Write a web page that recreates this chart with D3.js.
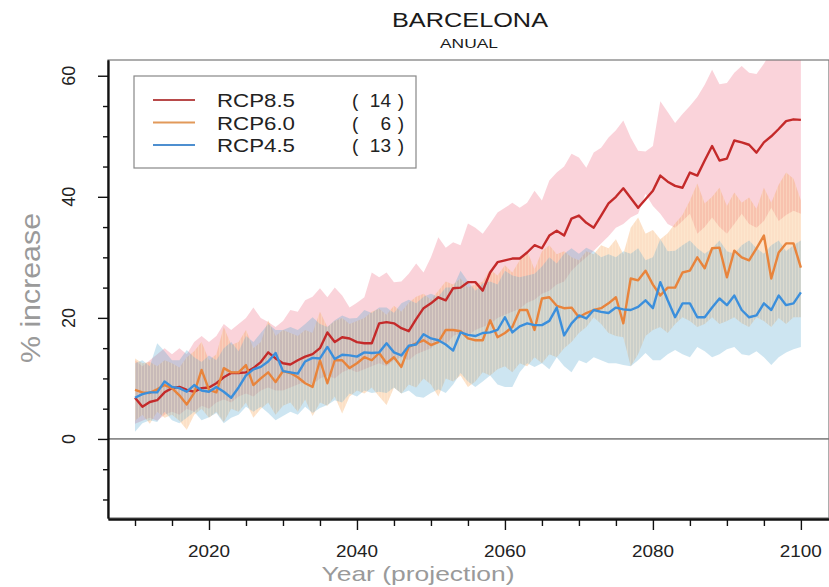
<!DOCTYPE html>
<html>
<head>
<meta charset="utf-8">
<script src="https://cdn.jsdelivr.net/npm/d3@7"></script>
<style>
  body { margin: 0; background: #fff; }
  svg { display: block; font-family: "Liberation Sans", Arial, sans-serif; }
</style>
</head>
<body>
<svg id="chart" width="829" height="587"></svg>
<script>
// Annual precipitation change, Barcelona: ensemble mean and spread per scenario
const years = d3.range(2010, 2101);

const rcp85 = [6.8,5.3,6.1,6.4,7.7,8.4,8.6,8.1,7.8,8.4,8.5,9.2,10.2,10.9,10.9,11.0,11.7,12.7,14.3,13.3,
  12.5,12.3,13.0,13.6,14.0,15.0,17.6,16.0,16.8,16.6,16.0,15.8,15.8,19.1,19.3,19.1,18.3,17.8,19.8,21.6,
  22.4,23.4,22.9,24.9,25.0,25.9,25.9,24.5,27.5,29.2,29.5,29.8,29.8,30.8,32.0,31.5,33.6,34.4,33.6,36.4,
  36.9,35.7,34.9,36.9,38.9,40.0,41.4,39.8,38.2,39.6,41.0,43.5,42.5,41.8,41.5,44.0,43.5,46.0,48.4,46.0,
  46.3,49.3,49.0,48.6,47.3,49.0,50.0,51.2,52.5,52.8,52.7];
const rcp60 = [8.1,7.7,7.6,8.2,8.9,8.4,7.2,5.7,7.6,11.4,8.1,7.7,11.7,11.0,11.0,12.2,8.9,10.0,11.0,9.4,
  11.2,10.9,10.2,9.2,8.6,13.0,9.2,13.0,13.0,11.7,12.5,13.5,13.0,14.2,12.5,13.5,11.9,15.2,15.8,16.3,
  15.5,16.0,18.0,18.0,17.8,16.6,16.3,16.3,19.6,16.8,17.5,18.5,21.3,21.3,18.0,23.2,23.4,22.0,21.6,21.7,
  20.1,20.8,21.3,21.6,22.4,23.4,19.1,26.5,26.2,27.8,25.5,23.7,25.0,25.0,27.5,27.8,30.0,28.2,31.5,31.6,
  26.7,31.1,30.0,29.5,31.5,33.6,26.5,30.8,32.3,32.3,28.3];
const rcp45 = [6.8,7.4,7.7,7.7,9.5,8.6,8.4,7.8,8.9,8.0,7.8,8.6,7.8,6.8,8.5,10.5,11.5,11.9,12.8,14.2,
  11.2,11.0,10.8,12.8,13.4,13.3,15.2,13.2,13.9,13.8,13.6,14.3,14.2,14.3,15.8,14.3,13.8,15.4,15.6,17.3,
  16.6,16.3,15.6,14.6,17.6,17.2,17.0,17.5,17.6,18.0,20.1,17.6,18.6,19.1,18.8,18.8,19.5,21.7,17.1,19.1,
  20.4,19.9,21.3,21.0,20.8,21.7,21.4,21.3,21.8,22.9,21.6,25.9,22.9,20.1,22.4,22.4,20.1,20.1,21.7,23.2,
  22.1,23.7,21.3,20.1,20.4,22.4,21.3,23.7,22.1,22.4,24.2];

// Ensemble spread (lower / upper envelope)
const rcp85Low = [2.5,3,3.5,3,4,4.5,4,5,4.5,5.5,5,6,6.5,6,7,7.5,7,8,8.5,8,
  8,8.5,9,9.5,9,10,10.5,10,11,11.5,11,11.5,12,12.5,12,13,13.5,13,14,14.5,
  15,16,15.5,17,17.5,17,18,18.5,19,20,20.5,21,21.5,22.5,23,24,24.5,25.5,26,27.8,
  29,30,31.1,32.3,33.5,34.9,35.5,36.6,37.2,40.5,38.5,37.2,35.5,34.9,36.0,37.2,33.9,35,36.6,35,
  33.9,35.5,37.2,35.5,34.9,36.0,38.2,36.0,37.0,37.7,37.2];
const rcp85High = [13,12,13,14,15,14,15,14,16,17,16,17,19,18,19,20,21.7,20,19.3,18.5,
  19.5,21.3,21,22.9,23.5,24.9,23.4,25,23.7,21.7,22.5,23.4,27.5,26.7,27.5,25.9,26,27.3,29,27.5,
  30,33.3,31.6,32.5,32,35.6,34.9,33.9,35.6,37.4,38.2,39,38.2,39,41,39.4,42.7,44,45,47.1,
  46.5,44.8,47.3,48.1,49.8,51,52.6,49.8,47.6,47.5,48.4,55.8,54,52.2,53.7,55,56.5,58.5,61,58.6,
  58.8,60.5,61.6,60.5,60.3,62,64,65,65,64,63];
const rcp60Low = [3.0,4.0,2.5,4.5,3.5,4.0,3.0,1.5,4.0,5.0,3.5,4.5,2.8,5.0,4.5,6.0,3.5,5.0,6.0,4.0,
  5.5,6.0,4.5,6.5,3.8,6.0,5.5,7.0,4.2,7.0,8.0,7.5,8.5,7.0,5.6,8.5,7.5,9.0,8.5,10.0,
  9.0,7.0,10.0,9.5,10.5,8.6,9.5,11.0,10.5,11.5,12.0,11.0,12.5,12.0,13.5,12.5,14.0,13.5,15.0,16.0,
  17.5,18.5,20.1,19.0,17.5,17.0,16.8,12.0,14.0,17.0,18.0,18.5,17.5,19.0,20.1,19.5,18.5,19.0,20.1,19.0,
  19.5,20.1,19.1,18.5,20.1,19.5,18.5,20.0,19.0,20.1,20.1];
const rcp60High = [13.3,12.5,12.7,12.0,13.0,12.5,11.8,13.5,14.5,16.0,13.0,14.0,18.5,15.5,16.0,18.0,15.0,16.0,19.6,17.0,
  18.0,17.5,17.0,18.0,17.5,21.0,18.5,19.5,20.0,19.0,19.5,20.0,21.0,21.5,20.5,22.0,21.0,22.5,23.5,24.0,
  23.0,24.5,26.0,25.5,26.5,25.0,25.5,26.0,28.0,27.0,28.7,27.5,29.5,31.1,28.0,31.0,32.0,30.5,31.0,30.0,
  29.5,31.0,30.5,32.0,31.5,33.0,30.5,34.9,36.6,33.9,34.5,33.0,34.0,35.6,37.0,39.4,42.2,38.9,40.0,41.5,
  38.5,40.7,39.0,39.9,38.0,41.5,39.0,42.0,44.0,43.0,39.4];
const rcp45Low = [1.2,2.6,3.1,2.8,4.5,3.1,2.6,3.5,4.5,3.1,3.6,4.3,2.6,3.5,4.0,5.3,4.5,5.3,4.3,3.1,
  3.8,4.5,4.0,5.3,4.3,5.1,5.6,6.4,6.0,7.5,7.0,8.0,7.6,7.8,7.6,8.5,7.5,8.0,7.0,6.8,
  7.6,8.2,7.6,9.0,10.9,9.5,8.6,9.5,10.5,9.0,8.6,8.6,11.0,12.5,11.9,12.5,11.5,13.5,12.0,11.0,
  13.0,12.5,13.5,13.0,12.5,12.5,12.2,12.0,13.0,14.2,13.0,13.0,14.0,14.7,14.0,13.5,15.2,14.5,13.5,14.0,
  14.8,15.2,14.0,13.8,14.5,13.5,12.2,13.5,14.3,14.8,15.2];
const rcp45High = [12.5,13.0,12.0,15.8,14.5,13.0,13.0,14.7,13.5,12.7,13.8,13.0,15.0,16.0,14.5,17.0,16.0,17.5,19.0,18.0,
  18.0,18.5,18.0,19.0,20.1,19.0,18.5,19.6,20.4,19.9,20.0,21.3,20.8,21.7,21.7,20.8,22.4,23.0,22.4,23.5,
  24.0,23.5,25.0,25.0,27.8,26.0,24.5,25.7,26.0,25.5,27.8,27.0,26.7,27.0,27.3,28.5,30.0,29.0,30.6,31.5,
  30.6,31.6,31.0,30.0,30.5,30.0,31.0,30.6,31.5,29.5,30.0,33.0,31.0,31.1,32.0,32.8,31.5,30.6,31.5,32.8,
  31.0,30.6,32.0,32.8,31.5,30.6,32.0,32.8,31.0,32.0,32.8];

const scenarios = ["RCP8.5", "RCP6.0", "RCP4.5"];
const modelCounts = [14, 6, 13];
const yTicksMajor = [0, 20, 40, 60];
const yTicksMinor = [-10, -5, 5, 10, 15, 25, 30, 35, 45, 50, 55];
const xTicksMajor = [2020, 2040, 2060, 2080, 2100];
const xTicksMinor = [2010, 2015, 2025, 2030, 2035, 2045, 2050, 2055, 2065, 2070, 2075, 2085, 2090, 2095];

const svg = d3.select("#chart");
const plot = { left: 108, right: 829, top: 60, bottom: 518 };

const x = d3.scaleLinear().domain([2006.35, 2103.8]).range([plot.left, plot.right]);
const y = d3.scaleLinear().domain([-13.06, 62.6]).range([plot.bottom, plot.top]);

const defs = svg.append("defs");
defs.append("clipPath").attr("id", "plotClip")
  .append("rect").attr("x", plot.left).attr("y", plot.top)
  .attr("width", plot.right - plot.left).attr("height", plot.bottom - plot.top);
const hatch = defs.append("pattern").attr("id", "hatch")
  .attr("patternUnits", "userSpaceOnUse").attr("width", 3).attr("height", 8);
hatch.append("rect").attr("x", 0).attr("y", 0).attr("width", 1).attr("height", 8)
  .attr("fill", "#fff6dc").attr("fill-opacity", 0.3);

const rows = years.map((yr, i) => ({
  year: yr,
  r: rcp85[i], o: rcp60[i], b: rcp45[i],
  rLo: rcp85Low[i], rHi: rcp85High[i],
  oLo: rcp60Low[i], oHi: rcp60High[i],
  bLo: rcp45Low[i], bHi: rcp45High[i]
}));

const g = svg.append("g").attr("clip-path", "url(#plotClip)");

const band = (lo, hi) => d3.area().x(d => x(d.year)).y0(d => y(d[lo])).y1(d => y(d[hi]));

// spread envelopes
g.append("path").datum(rows).attr("d", band("rLo", "rHi"))
  .attr("fill", "#f08096").attr("fill-opacity", 0.35);
g.append("path").datum(rows).attr("d", band("oLo", "oHi"))
  .attr("fill", "#f5a050").attr("fill-opacity", 0.32);
g.append("path").datum(rows).attr("d", band("bLo", "bHi"))
  .attr("fill", "#5aaad2").attr("fill-opacity", 0.3);
g.append("path").datum(rows).attr("d", band("oLo", "oHi"))
  .attr("fill", "url(#hatch)");

// zero reference line
svg.append("line")
  .attr("x1", plot.left).attr("x2", plot.right)
  .attr("y1", y(0)).attr("y2", y(0))
  .attr("stroke", "#333").attr("stroke-width", 1);

// ensemble means
const colors = { r: "#c42a2a", o: "#e8843c", b: "#3b8fdc" };
["r", "o", "b"].forEach(k => {
  g.append("path").datum(rows)
    .attr("d", d3.line().x(d => x(d.year)).y(d => y(d[k])))
    .attr("fill", "none").attr("stroke", colors[k])
    .attr("stroke-width", 2.4).attr("stroke-linejoin", "round");
});

// frame
svg.append("rect")
  .attr("x", plot.left).attr("y", plot.top)
  .attr("width", plot.right - plot.left).attr("height", plot.bottom - plot.top)
  .attr("fill", "none").attr("stroke", "#777").attr("stroke-width", 1.2);

// y axis
const yAxisMinor = svg.append("g").attr("transform", `translate(${plot.left},0)`)
  .call(d3.axisLeft(y).tickValues(yTicksMinor).tickSize(5).tickSizeOuter(0).tickFormat(""));
const yAxisMajor = svg.append("g").attr("transform", `translate(${plot.left},0)`)
  .call(d3.axisLeft(y).tickValues(yTicksMajor).tickSize(10).tickSizeOuter(0).tickFormat(""));
[yAxisMinor, yAxisMajor].forEach(a => {
  a.select(".domain").attr("stroke", "#111").attr("stroke-width", 1.8);
  a.selectAll(".tick line").attr("stroke", "#111").attr("stroke-width", 1.4);
});
svg.append("g").selectAll("text").data(yTicksMajor).join("text")
  .attr("transform", d => `translate(75,${y(d)}) rotate(-90)`)
  .attr("text-anchor", "middle")
  .attr("font-size", 18).attr("fill", "#222")
  .text(d => d);

// x axis
const xAxisMinor = svg.append("g").attr("transform", `translate(0,${plot.bottom + 1})`)
  .call(d3.axisBottom(x).tickValues(xTicksMinor).tickSize(7).tickSizeOuter(0).tickFormat(""));
const xAxisMajor = svg.append("g").attr("transform", `translate(0,${plot.bottom + 1})`)
  .call(d3.axisBottom(x).tickValues(xTicksMajor).tickSize(11).tickSizeOuter(0).tickFormat(""));
[xAxisMinor, xAxisMajor].forEach(a => {
  a.select(".domain").attr("stroke", "#111").attr("stroke-width", 1.8);
  a.selectAll(".tick line").attr("stroke", "#111").attr("stroke-width", 1.4);
});
svg.append("g").selectAll("text").data(xTicksMajor).join("text")
  .attr("x", d => x(d)).attr("y", 557)
  .attr("text-anchor", "middle")
  .attr("font-size", 16).attr("fill", "#222")
  .attr("textLength", 42).attr("lengthAdjust", "spacingAndGlyphs")
  .text(d => d);

// titles
svg.append("text").attr("x", 470).attr("y", 27).attr("text-anchor", "middle")
  .attr("font-size", 20).attr("fill", "#1a1a1a")
  .attr("textLength", 156).attr("lengthAdjust", "spacingAndGlyphs")
  .text("BARCELONA");
svg.append("text").attr("x", 469).attr("y", 48).attr("text-anchor", "middle")
  .attr("font-size", 12.5).attr("fill", "#1a1a1a")
  .attr("textLength", 58).attr("lengthAdjust", "spacingAndGlyphs")
  .text("ANUAL");

svg.append("text")
  .attr("transform", "translate(40,288) rotate(-90)")
  .attr("text-anchor", "middle")
  .attr("font-size", 28).attr("fill", "#9a9a9a")
  .attr("textLength", 150).attr("lengthAdjust", "spacingAndGlyphs")
  .text("% increase");
svg.append("text").attr("x", 418).attr("y", 581).attr("text-anchor", "middle")
  .attr("font-size", 21).attr("fill", "#9a9a9a")
  .attr("textLength", 193).attr("lengthAdjust", "spacingAndGlyphs")
  .text("Year (projection)");

// legend
const legend = svg.append("g");
legend.append("rect").attr("x", 134).attr("y", 76).attr("width", 282).attr("height", 92)
  .attr("fill", "#fff").attr("stroke", "#888").attr("stroke-width", 1.2);
const legendColors = ["#b84a4a", "#e2995a", "#4d8fd0"];
const legendRows = [100, 122.5, 145];
scenarios.forEach((name, i) => {
  const ly = legendRows[i];
  legend.append("line").attr("x1", 153).attr("x2", 195).attr("y1", ly).attr("y2", ly)
    .attr("stroke", legendColors[i]).attr("stroke-width", 1.8);
  legend.append("text").attr("x", 217).attr("y", ly + 7)
    .attr("font-size", 19).attr("fill", "#222")
    .attr("textLength", 78).attr("lengthAdjust", "spacingAndGlyphs")
    .text(name);
  legend.append("text").attr("x", 352).attr("y", ly + 7)
    .attr("font-size", 19).attr("fill", "#222").text("(");
  legend.append("text").attr("x", 391).attr("y", ly + 7).attr("text-anchor", "end")
    .attr("font-size", 19).attr("fill", "#222").text(modelCounts[i]);
  legend.append("text").attr("x", 404).attr("y", ly + 7).attr("text-anchor", "end")
    .attr("font-size", 19).attr("fill", "#222").text(")");
});
</script>
</body>
</html>
